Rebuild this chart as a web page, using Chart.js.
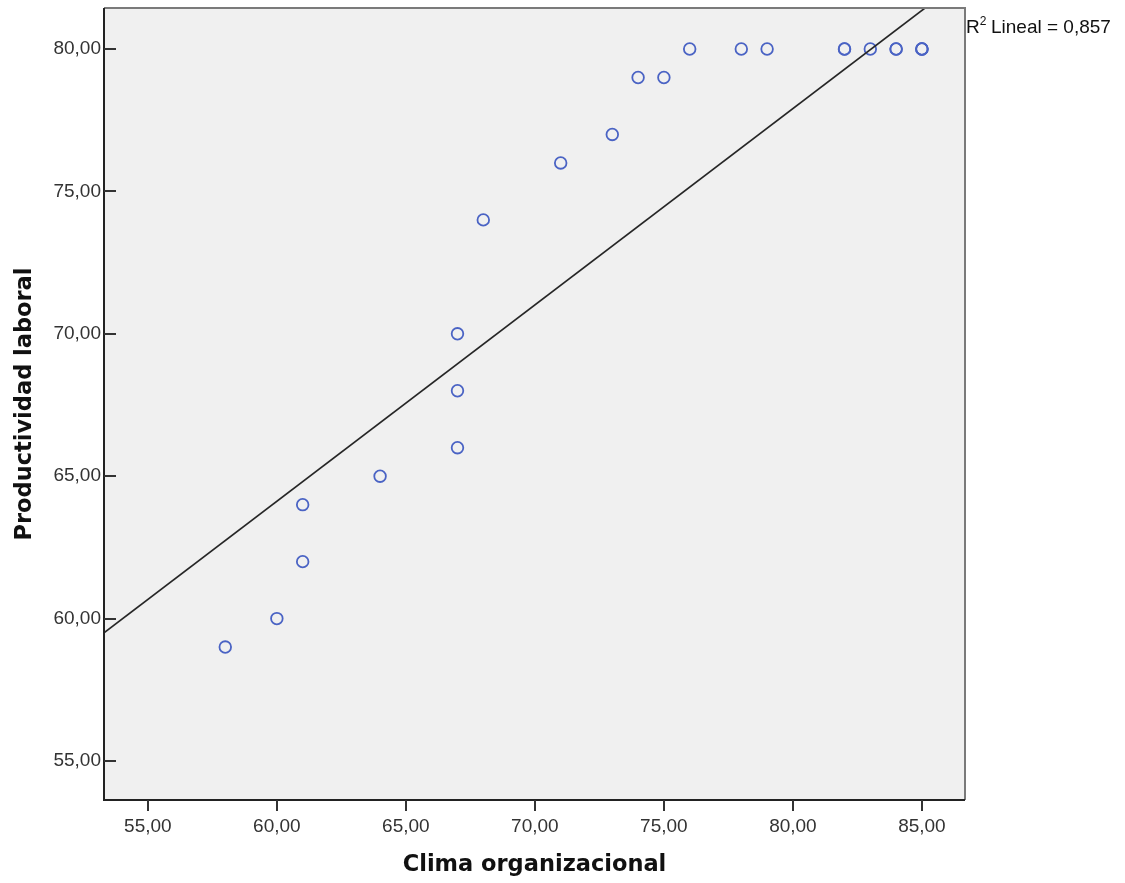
<!DOCTYPE html>
<html>
<head>
<meta charset="utf-8">
<script src="https://cdn.jsdelivr.net/npm/chart.js@4.4.1/dist/chart.umd.min.js"></script>
<style>
  html, body { margin: 0; padding: 0; background: #fff; }
  #wrap { width: 1125px; height: 883px; }
</style>
</head>
<body>
<div id="wrap"><canvas id="scatter"></canvas></div>
<script>
const clima = [58, 60, 61, 61, 64, 67, 67, 67, 68, 71, 73, 74, 75, 76, 78, 79, 82, 82, 83, 84, 84, 85, 85, 85];
const productividad = [59, 60, 62, 64, 65, 66, 68, 70, 74, 76, 77, 79, 79, 80, 80, 80, 80, 80, 80, 80, 80, 80, 80, 80];
const xTicks = [55, 60, 65, 70, 75, 80, 85];
const yTicks = [55, 60, 65, 70, 75, 80];
const fitX = [53.3, 85.12];
const fitY = [59.5, 81.44];
const r2Label = "0,857";

const fmt = v => v.toFixed(2).replace(".", ",");
const SANS = "'Liberation Sans', Arial, sans-serif";
const TITLE = "'DejaVu Sans', sans-serif";

// marco del grafico y marcas de los ejes
const frame = {
  id: "frame",
  beforeDatasetsDraw(chart) {
    const { ctx, chartArea: a } = chart;
    ctx.save();
    ctx.fillStyle = "#f0f0f0";
    ctx.fillRect(a.left, a.top, a.right - a.left, a.bottom - a.top);
    ctx.restore();
  },
  afterDraw(chart) {
    const { ctx, chartArea: a, scales } = chart;
    ctx.save();
    ctx.lineWidth = 2;
    ctx.strokeStyle = "#7a7a7a";
    ctx.beginPath();
    ctx.moveTo(a.left, a.top);
    ctx.lineTo(a.right, a.top);
    ctx.lineTo(a.right, a.bottom);
    ctx.stroke();
    ctx.strokeStyle = "#222";
    ctx.beginPath();
    ctx.moveTo(a.left, a.top);
    ctx.lineTo(a.left, a.bottom);
    ctx.lineTo(a.right, a.bottom);
    ctx.stroke();
    ctx.strokeStyle = "#333";
    xTicks.forEach(v => {
      const x = Math.round(scales.x.getPixelForValue(v));
      ctx.beginPath();
      ctx.moveTo(x, a.bottom);
      ctx.lineTo(x, a.bottom + 11);
      ctx.stroke();
    });
    yTicks.forEach(v => {
      const y = Math.round(scales.y.getPixelForValue(v));
      ctx.beginPath();
      ctx.moveTo(a.left, y);
      ctx.lineTo(a.left + 12, y);
      ctx.stroke();
    });
    // etiqueta R2
    ctx.fillStyle = "#111";
    ctx.textBaseline = "alphabetic";
    ctx.font = "19px " + SANS;
    const x0 = a.right + 1, y0 = 33;
    ctx.fillText("R", x0, y0);
    const w = ctx.measureText("R").width;
    ctx.font = "12px " + SANS;
    ctx.fillText("2", x0 + w, y0 - 8);
    ctx.font = "19px " + SANS;
    ctx.fillText(" Lineal = " + r2Label, x0 + w + 6, y0);
    ctx.restore();
  }
};

new Chart(document.getElementById("scatter"), {
  type: "scatter",
  data: {
    datasets: [
      {
        type: "line",
        data: fitX.map((x, i) => ({ x, y: fitY[i] })),
        borderColor: "#262626",
        borderWidth: 1.6,
        pointRadius: 0,
        fill: false
      },
      {
        data: clima.map((x, i) => ({ x, y: productividad[i] })),
        pointRadius: 5.8,
        pointBorderWidth: 1.8,
        pointBackgroundColor: "rgba(0,0,0,0)",
        pointBorderColor: "#4a63c4"
      }
    ]
  },
  options: {
    responsive: true,
    maintainAspectRatio: false,
    animation: false,
    layout: { padding: { left: 0, right: 160, top: 8, bottom: 0 } },
    plugins: { legend: { display: false }, tooltip: { enabled: false } },
    scales: {
      x: {
        type: "linear",
        min: 53.3,
        max: 86.67,
        afterBuildTicks: s => { s.ticks = xTicks.map(value => ({ value })); },
        afterFit: s => { s.height = 83; s.paddingLeft = 0; s.paddingRight = 0; },
        grid: { display: false, drawTicks: false },
        border: { display: false },
        ticks: {
          padding: 15,
          color: "#333",
          font: { family: SANS, size: 19 },
          callback: v => fmt(v)
        },
        title: {
          display: true,
          text: "Clima organizacional",
          color: "#111",
          padding: { top: 8 },
          font: { family: TITLE, size: 22.5, weight: "bold" }
        }
      },
      y: {
        min: 53.63,
        max: 81.44,
        afterBuildTicks: s => { s.ticks = yTicks.map(value => ({ value })); },
        afterFit: s => { s.width = 104; s.paddingTop = 0; s.paddingBottom = 0; },
        grid: { display: false, drawTicks: false },
        border: { display: false },
        ticks: {
          padding: 3,
          color: "#333",
          font: { family: SANS, size: 19 },
          callback: v => fmt(v)
        },
        title: {
          display: true,
          text: "Productividad laboral",
          color: "#111",
          padding: { top: 12, bottom: 4 },
          font: { family: TITLE, size: 22.5, weight: "bold" }
        }
      }
    }
  },
  plugins: [frame]
});
</script>
</body>
</html>
